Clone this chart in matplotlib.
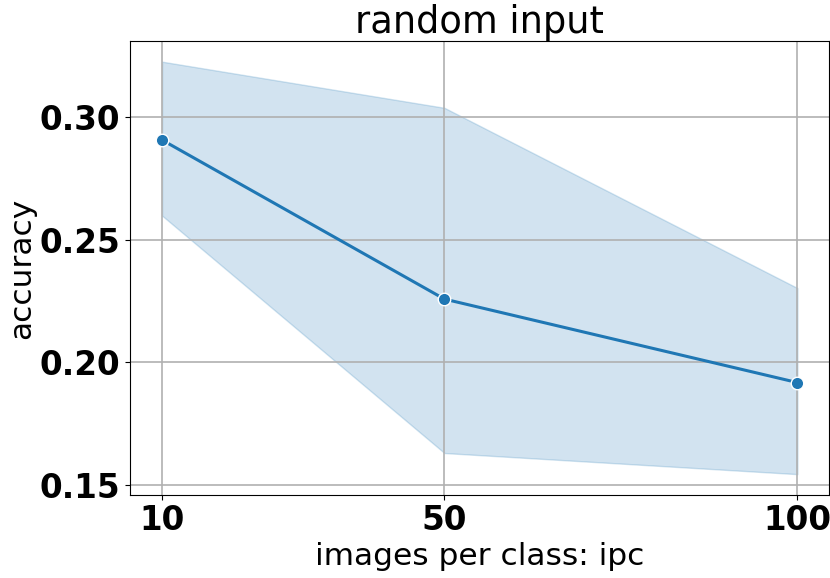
import matplotlib
matplotlib.use('Agg')
import matplotlib.pyplot as plt

# data
ipc = [10, 50, 100]
acc_mean = [0.2906, 0.2258, 0.1918]
acc_low = [0.2598, 0.1631, 0.1545]
acc_high = [0.3225, 0.3037, 0.2303]

fig, ax = plt.subplots(figsize=(8.3, 5.78), dpi=100)
fig.subplots_adjust(left=0.157, right=0.999, top=0.929, bottom=0.144)

ax.fill_between(ipc, acc_low, acc_high, color='#1f77b4', alpha=0.2, linewidth=1)
ax.plot(ipc, acc_mean, color='#1f77b4', linewidth=2.2, marker='o',
        markersize=9, markeredgecolor='white', markeredgewidth=1)

ax.grid(True, color='#b0b0b0', linewidth=1.2)
ax.set_xticks(ipc)
ax.set_yticks([0.15, 0.20, 0.25, 0.30])
ax.set_yticklabels(['0.15', '0.20', '0.25', '0.30'])
for lbl in ax.get_xticklabels() + ax.get_yticklabels():
    lbl.set_fontweight('bold')
    lbl.set_fontsize(23.5)

ax.set_xlabel('images per class: ipc', fontsize=22.5, labelpad=3)
ax.set_ylabel('accuracy', fontsize=22.5, labelpad=3)
ax.set_title('random input', fontsize=26.5, pad=5)

plt.savefig('out.png', dpi=100)
plt.close()
